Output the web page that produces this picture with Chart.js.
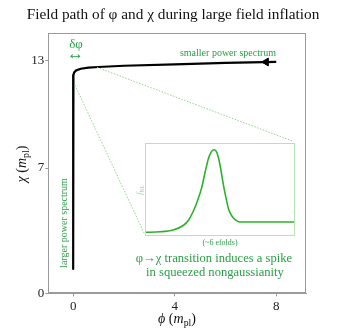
<!DOCTYPE html>
<html>
<head>
<meta charset="utf-8">
<script src="https://cdn.jsdelivr.net/npm/chart.js@4.4.1/dist/chart.umd.min.js"></script>
<style>
  body { margin: 0; background: #fff; }
  #wrap { position: relative; width: 347px; height: 334px; font-family: "Liberation Serif", serif; color: #111; }
  #main { position: absolute; left: 0; top: 0; }
  #inset { position: absolute; left: 145px; top: 143px; }
  .lab { position: absolute; white-space: nowrap; line-height: 1; transform: translate(-50%, -50%); }
  .green { color: #2a9d48; }
  sub { font-size: 70%; vertical-align: -0.3em; line-height: 0; }
</style>
</head>
<body>
<div id="wrap">
  <canvas id="main" width="347" height="334"></canvas>
  <canvas id="inset" width="150" height="93"></canvas>

  <div class="lab" style="left:173px;top:14px;font-size:15.3px">Field path of φ and χ during large field inflation</div>

  <div class="lab" style="left:22px;top:164px;font-size:14px;transform:translate(-50%,-50%) rotate(-90deg)"><i>χ</i> (<i>m</i><sub>pl</sub>)</div>
  <div class="lab" style="left:177px;top:319px;font-size:14px"><i>ϕ</i> (<i>m</i><sub>pl</sub>)</div>

  <div class="lab green" style="left:76px;top:43px;font-size:13px">δφ</div>
  <div class="lab green" style="left:75.5px;top:53px;font-size:17px">↔</div>
  <div class="lab green" style="left:228px;top:53px;font-size:10px">smaller power spectrum</div>
  <div class="lab green" style="left:64px;top:223px;font-size:10px;transform:translate(-50%,-50%) rotate(-90deg)">larger power spectrum</div>

  <div class="lab" style="left:140px;top:190px;font-size:8px;color:#9fd49f;transform:translate(-50%,-50%) rotate(-90deg)"><i>f</i><sub>NL</sub></div>
  <div class="lab green" style="left:220px;top:243px;font-size:8px">(~6 efolds)</div>
  <div class="lab green" style="left:214px;top:258px;font-size:12.6px">φ→χ transition induces a spike</div>
  <div class="lab green" style="left:215px;top:272px;font-size:12.6px">in squeezed nongaussianity</div>
</div>

<script>
// trajectoire du champ (phi, chi) en m_pl
const phiPath = [8, 6, 4, 2, 1, 0.6, 0.3, 0.12, 0.04, 0.01, 0, 0];
const chiPath = [12.94, 12.88, 12.8, 12.72, 12.65, 12.61, 12.55, 12.46, 12.35, 12.2, 11.9, 1.36];

// pointe de flèche sur la branche horizontale
const arrowPhi = [7.6];
const arrowChi = [12.93];

// lignes pointillées vers l'encart
const zoomUpperPhi = [0.94, 8.66];
const zoomUpperChi = [12.63, 8.5];
const zoomLowerPhi = [0.07, 2.8];
const zoomLowerChi = [11.64, 3.35];

const xTicks = [0, 4, 8];
const yTicks = [0, 7, 13];

// encart : f_NL en fonction du temps (unités arbitraires 0-100)
const insetX = [0, 10, 18.7, 25.5, 29, 32.2, 35, 37.8, 40, 42.2, 44, 46, 47.5, 48.9, 50.5, 52.2, 54, 55.5, 57, 58.9, 61, 63.3, 67, 80, 100];
const insetY = [4, 4.5, 6.5, 11.3, 17, 26.6, 38, 52, 68, 82.9, 90, 92.7, 91, 84.7, 72, 55.6, 41, 30.2, 24, 19.3, 16.5, 15, 15, 15, 15];

const toPoints = (xs, ys) => xs.map((x, i) => ({ x: x, y: ys[i] }));

const framePlugin = {
    id: 'frame',
    afterDraw(chart, args, opts) {
        const { ctx, chartArea: a } = chart;
        ctx.save();
        ctx.strokeStyle = opts.color;
        ctx.lineWidth = 1;
        ctx.strokeRect(Math.round(a.left) + 0.5, Math.round(a.top) + 0.5,
            Math.round(a.right - a.left) - 1, Math.round(a.bottom - a.top) - 1);
        ctx.restore();
    }
};

const tickFont = { family: "Liberation Serif", size: 13 };
const axisGray = '#9a9a9a';

new Chart(document.getElementById('main'), {
    type: 'scatter',
    data: {
        datasets: [
            {
                data: toPoints(zoomUpperPhi, zoomUpperChi),
                showLine: true, borderColor: '#8fd28f', borderWidth: 1,
                borderDash: [1.5, 1.5], pointRadius: 0
            },
            {
                data: toPoints(zoomLowerPhi, zoomLowerChi),
                showLine: true, borderColor: '#8fd28f', borderWidth: 1,
                borderDash: [1.5, 1.5], pointRadius: 0
            },
            {
                data: toPoints(phiPath, chiPath),
                showLine: true, borderColor: '#000', borderWidth: 2.2,
                pointRadius: 0, borderJoinStyle: 'round', borderCapStyle: 'butt'
            },
            {
                data: toPoints(arrowPhi, arrowChi),
                pointStyle: 'triangle', rotation: -90, pointRadius: 4.5,
                backgroundColor: '#000', borderColor: '#000'
            }
        ]
    },
    options: {
        responsive: false,
        animation: false,
        layout: { padding: { top: 33, right: 40.3, bottom: 0, left: 0 } },
        plugins: {
            legend: { display: false },
            tooltip: { enabled: false },
            frame: { color: axisGray }
        },
        scales: {
            x: {
                type: 'linear', min: -0.98, max: 9.2,
                afterBuildTicks: s => { s.ticks = xTicks.map(v => ({ value: v })); },
                afterFit: s => { s.height = 40.7; },
                ticks: { font: tickFont, color: '#222', padding: 2, maxRotation: 0 },
                grid: { drawOnChartArea: false, tickLength: 3, color: axisGray },
                border: { color: axisGray }
            },
            y: {
                type: 'linear', min: 0, max: 14.55,
                afterBuildTicks: s => { s.ticks = yTicks.map(v => ({ value: v })); },
                afterFit: s => { s.width = 48.3; },
                ticks: { font: tickFont, color: '#222', padding: 1 },
                grid: { drawOnChartArea: false, tickLength: 3, color: axisGray },
                border: { color: axisGray }
            }
        }
    },
    plugins: [framePlugin]
});

new Chart(document.getElementById('inset'), {
    type: 'scatter',
    data: {
        datasets: [{
            data: toPoints(insetX, insetY),
            showLine: true, borderColor: '#2db12d', borderWidth: 1.6,
            cubicInterpolationMode: 'monotone', pointRadius: 0
        }]
    },
    options: {
        responsive: false,
        animation: false,
        layout: { padding: 0 },
        plugins: {
            legend: { display: false },
            tooltip: { enabled: false },
            frame: { color: '#b5e3b5' }
        },
        scales: {
            x: { type: 'linear', min: 0, max: 100, display: false },
            y: { type: 'linear', min: 0, max: 100, display: false }
        }
    },
    plugins: [framePlugin]
});
</script>
</body>
</html>
